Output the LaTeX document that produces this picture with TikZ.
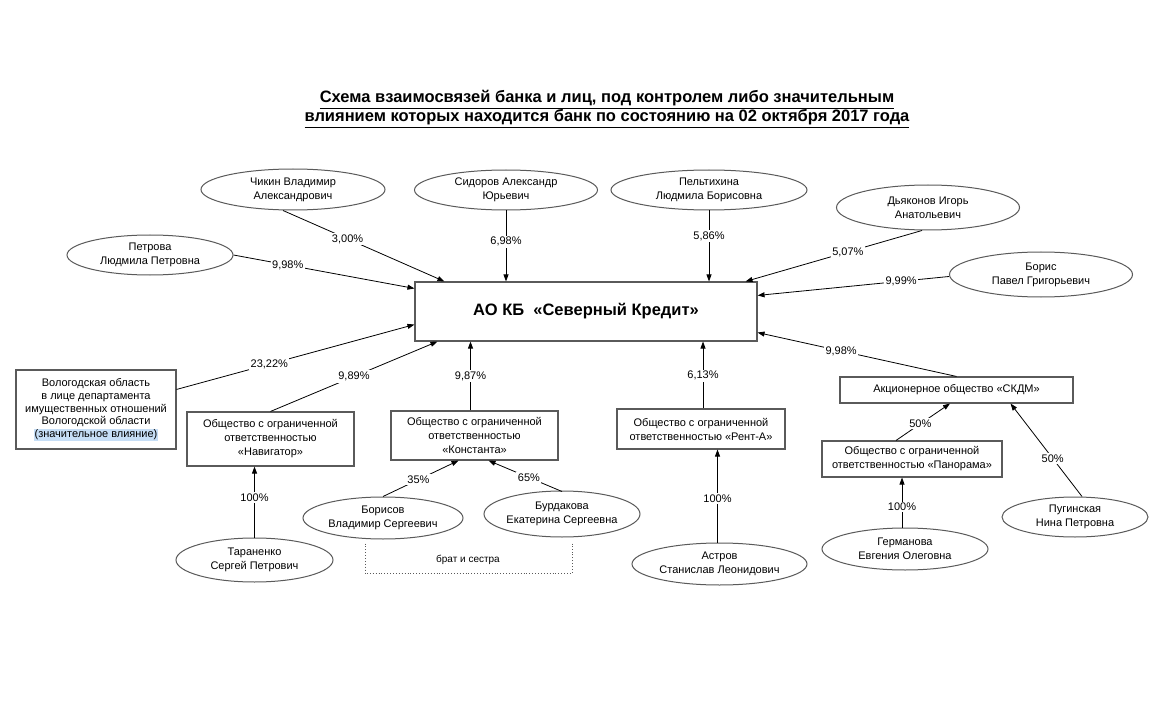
\documentclass[tikz,border=0pt]{standalone}
\usepackage{fontspec}
\setmainfont{Liberation Sans}
\usetikzlibrary{shapes.geometric,arrows.meta,calc}
\definecolor{edge}{HTML}{5A5A5A}
\definecolor{hl}{HTML}{C6DEF6}
\begin{document}
\begin{tikzpicture}[x=1pt,y=-1pt,
  txt/.style={font=\fontsize{11}{14}\selectfont},
  box/.style={draw=edge, line width=1.1pt, rectangle, inner sep=0pt, align=center, txt},
  person/.style={draw=edge, line width=1pt, ellipse, inner sep=0pt},
  ptext/.style={align=center, txt},
  arr/.style={black, line width=0.8pt, -{Triangle[length=7pt,width=5pt]}},
  pct/.style={fill=white, inner sep=1.5pt, txt},
]
\useasboundingbox[fill=white] (0,0) rectangle (1173,714);

% title
\node[font=\bfseries\fontsize{16.5}{19}\selectfont, align=center] (title) at (607,109)
  {\underline{Схема взаимосвязей банка и лиц, под контролем либо значительным}\\
   \underline{влиянием которых находится банк по состоянию на 02 октября 2017 года}};

% main bank
\node[box, minimum width=342pt, minimum height=59pt, font=\bfseries\fontsize{16.5}{19}\selectfont] (main) at (586,311.5) {АО КБ\ \ «Северный Кредит»};

% persons (top)
\node[person, minimum width=184pt, minimum height=41pt, label={[ptext]center:Чикин Владимир\\Александрович}] (chikin) at (293,189.5) {};
\node[person, minimum width=183pt, minimum height=40pt, label={[ptext]center:Сидоров Александр\\Юрьевич}] (sidorov) at (506,190) {};
\node[person, minimum width=196pt, minimum height=40pt, label={[ptext]center:Пельтихина\\Людмила Борисовна}] (pelt) at (709,190) {};
\node[person, minimum width=183pt, minimum height=45pt, label={[ptext]center:Дьяконов Игорь\\Анатольевич}] (dyak) at (928,207.5) {};
\node[person, minimum width=166pt, minimum height=40pt, label={[ptext]center:Петрова\\Людмила Петровна}] (petrova) at (150,255) {};
\node[person, minimum width=183pt, minimum height=45pt, label={[ptext]center:Борис\\Павел Григорьевич}] (boris) at (1041,274.5) {};

% companies
\node[box, minimum width=160pt, minimum height=79pt, font=\fontsize{11}{12.8}\selectfont] (vologda) at (96,409.5)
  {Вологодская область\\в лице департамента\\имущественных отношений\\Вологодской области\\{\setlength{\fboxsep}{0.6pt}\colorbox{hl}{(значительное влияние)}}};
\node[box, minimum width=167pt, minimum height=54pt] (nav) at (270.5,439) {Общество с ограниченной\\ответственностью\\«Навигатор»};
\node[box, minimum width=167pt, minimum height=49pt] (konst) at (474.5,435.5) {Общество с ограниченной\\ответственностью\\«Константа»};
\node[box, minimum width=168pt, minimum height=40pt] (rent) at (701,429) {Общество с ограниченной\\ответственностью «Рент-А»};
\node[box, minimum width=233pt, minimum height=26pt] (skdm) at (956.5,390) {Акционерное общество «СКДМ»};
\node[box, minimum width=180pt, minimum height=36pt] (pan) at (912,459) {Общество с ограниченной\\ответственностью «Панорама»};

% persons (bottom)
\node[person, minimum width=157pt, minimum height=44pt, label={[ptext]center:Тараненко\\Сергей Петрович}] (tar) at (254.5,560) {};
\node[person, minimum width=160pt, minimum height=42pt, label={[ptext]center:Борисов\\Владимир Сергеевич}] (borisov) at (383,518) {};
\node[person, minimum width=156pt, minimum height=46pt, label={[ptext]center:Бурдакова\\Екатерина Сергеевна}] (burd) at (562,514) {};
\node[person, minimum width=175pt, minimum height=42pt, label={[ptext]center:Астров\\Станислав Леонидович}] (astrov) at (719.5,564) {};
\node[person, minimum width=166pt, minimum height=42pt, label={[ptext]center:Германова\\Евгения Олеговна}] (germ) at (905,549) {};
\node[person, minimum width=146pt, minimum height=40pt, label={[ptext]center:Пугинская\\Нина Петровна}] (pugin) at (1075,517) {};

% sibling bracket
\draw[edge, dotted, line width=0.9pt] ($(borisov.south)+(-18,4)$) -- ++(0,30) -| ($(burd.south)+(10,6)$);
\node[txt, font=\fontsize{10}{12}\selectfont] (sib) at (468,560) {брат и сестра};

% connectors to bank
\draw[arr] ($(chikin.south)+(-10,0)$) -- node[pct, pos=0.4] {3,00\%} ($(main.north west)+(30,0)$);
\draw[arr] (sidorov.south) -- node[pct, pos=0.44] {6,98\%} (sidorov.south |- main.north);
\draw[arr] (pelt.south) -- node[pct, pos=0.36] {5,86\%} (pelt.south |- main.north);
\draw[arr] ($(dyak.south)+(-6,0)$) -- node[pct, pos=0.42] {5,07\%} ($(main.north east)+(-12,0)$);
\draw[arr] (petrova.east) -- node[pct, pos=0.3] {9,98\%} ($(main.north west)+(0,7)$);
\draw[arr] ($(boris.west)+(0,2)$) -- node[pct, pos=0.25] {9,99\%} ($(main.north east)+(0,14)$);
\draw[arr] ($(vologda.north east)+(0,20)$) -- node[pct, pos=0.39] {23,22\%} ($(main.south west)+(0,-17)$);
\draw[arr] (nav.north) -- node[pct, pos=0.5] {9,89\%} ($(main.south west)+(23,0)$);
\coordinate (kt) at ($(konst.north)+(-4,0)$);
\draw[arr] (kt) -- node[pct, pos=0.5] {9,87\%} (kt |- main.south);
\coordinate (rt) at ($(rent.north)+(2,0)$);
\draw[arr] (rt) -- node[pct, pos=0.49] {6,13\%} (rt |- main.south);
\draw[arr] (skdm.north) -- node[pct, pos=0.58] {9,98\%} ($(main.south east)+(0,-9)$);

% lower connectors
\draw[arr] (tar.north) -- node[pct, pos=0.56] {100\%} (tar.north |- nav.south);
\draw[arr] (borisov.north) -- node[pct, pos=0.47] {35\%} ($(konst.south)+(-16,0)$);
\draw[arr] ($(burd.north)+(0,1)$) -- node[pct, pos=0.45] {65\%} ($(konst.south)+(14,0)$);
\coordinate (at) at ($(astrov.north)+(-2,0)$);
\draw[arr] (at) -- node[pct, pos=0.47] {100\%} (at |- rent.south);
\coordinate (gt) at ($(germ.north)+(-3,0)$);
\draw[arr] (gt) -- node[pct, pos=0.41] {100\%} (gt |- pan.south);
\draw[arr] ($(pugin.north)+(7,0)$) -- node[pct, pos=0.41] {50\%} ($(skdm.south east)+(-63,0)$);
\draw[arr] ($(pan.north)+(-16,0)$) -- node[pct, pos=0.45] {50\%} ($(skdm.south)+(-6.5,0)$);
\end{tikzpicture}
\end{document}
